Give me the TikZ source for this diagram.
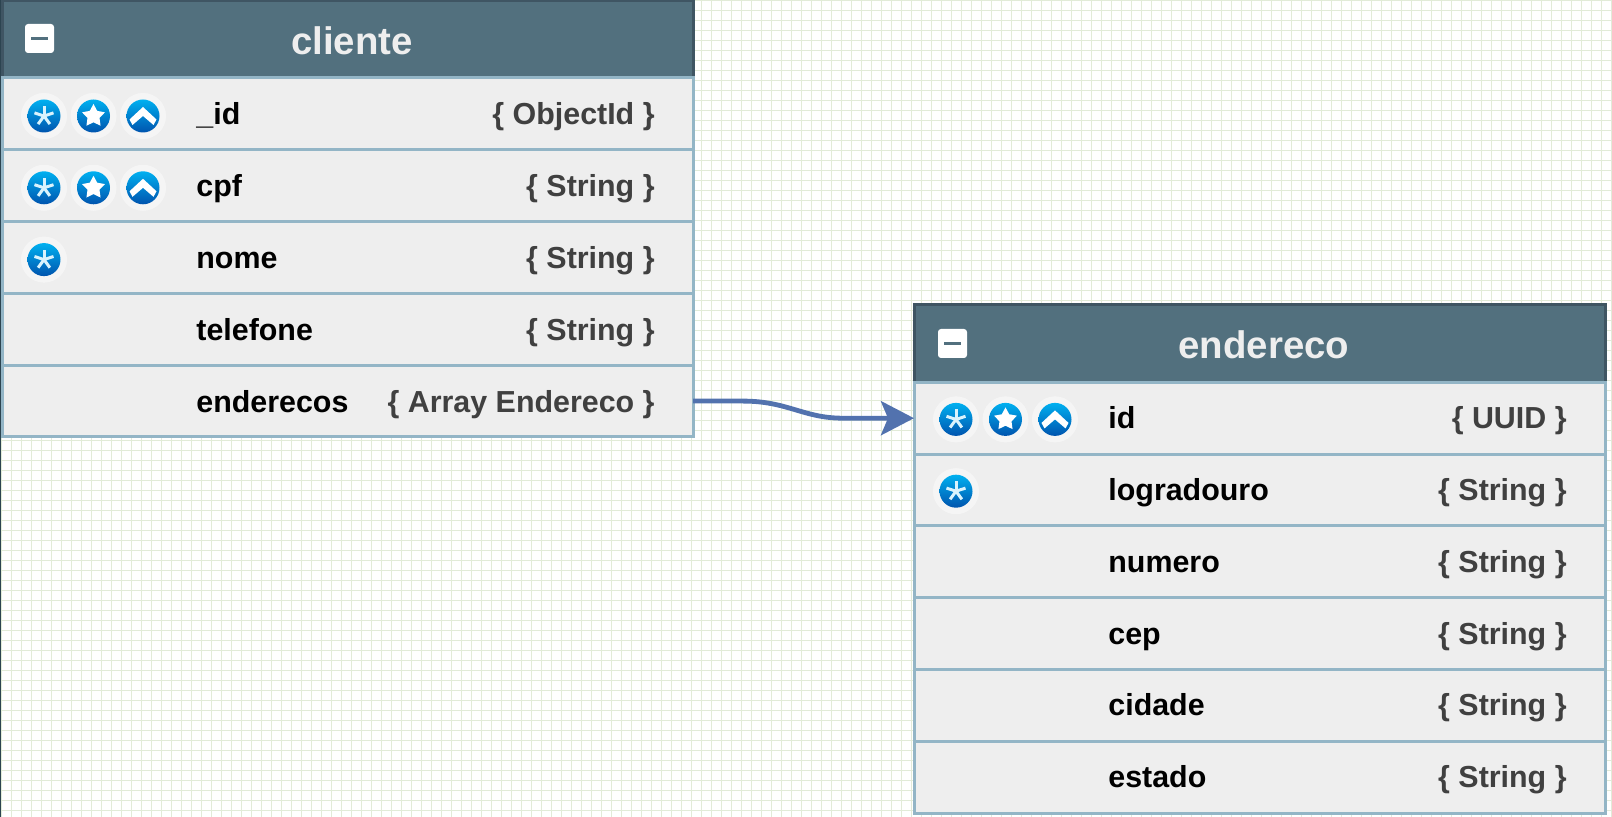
\documentclass[tikz,border=0pt]{standalone}
\usepackage{fontspec}
\setmainfont{Liberation Sans}
\usetikzlibrary{arrows.meta,shapes.geometric}
\definecolor{gridline}{HTML}{E2EBD8}
\definecolor{edgeline}{HTML}{2C4450}
\definecolor{headfill}{HTML}{52707E}
\definecolor{headline}{HTML}{3F5563}
\definecolor{rowfill}{HTML}{EEEEEE}
\definecolor{rowline}{HTML}{93B5C6}
\definecolor{typetext}{HTML}{404040}
\definecolor{linkline}{HTML}{5272AE}
\definecolor{icontop}{HTML}{00B0F0}
\definecolor{iconbottom}{HTML}{0054AE}
\tikzset{
  headbox/.style={draw=headline, fill=headfill, line width=1.5pt, minimum width=345.5pt, minimum height=39pt, inner sep=0pt, outer sep=0pt},
  rowbox/.style={draw=rowline, fill=rowfill, line width=1.5pt, minimum width=345.5pt, minimum height=35.9pt, inner sep=0pt, outer sep=0pt},
  titletext/.style={text=rowfill, font=\bfseries\fontsize{19.2}{22}\selectfont, anchor=base},
  fieldname/.style={text=black, font=\bfseries\fontsize{15.2}{18}\selectfont, anchor=base west, inner sep=0pt},
  fieldtype/.style={text=typetext, font=\bfseries\fontsize{15.2}{18}\selectfont, anchor=base east, inner sep=0pt},
  minusbtn/.style={fill=white, rounded corners=1.5pt, minimum size=14.5pt, inner sep=0pt,
    path picture={\draw[headfill, line width=1.5pt] (-8.5,0) -- (8.5,0);}},
  iconbase/.pic={
    \fill[white, opacity=.45] (0,0) circle (23);
    \shade[top color=icontop, bottom color=iconbottom] (0,0) circle (16.5);
  },
  asteriskicon/.pic={
    \pic {iconbase};
    \foreach \a in {90,162,234,306,18} {
      \draw[white!85!icontop, line width=1.5pt] (0,0) -- (\a:10);
    }
  },
  staricon/.pic={
    \pic {iconbase};
    \node[star, star points=5, star point ratio=1.9, fill=white, minimum size=12pt, inner sep=0pt] (-glyph) at (0,0) {};
  },
  chevronicon/.pic={
    \pic {iconbase};
    \fill[white] (0,9) -- (13.5,-3.5) -- (10.5,-9) -- (0,0) -- (-10.5,-9) -- (-13.5,-3.5) -- cycle;
  },
}
\begin{document}
\begin{tikzpicture}[x=0.5pt, y=0.5pt]
  \useasboundingbox (0,0) rectangle (1612,-817);

  % background grid
  \foreach \x in {1.5,11.5,...,1611.5} {
    \draw[gridline, line width=.85pt] (\x,0) -- (\x,-817);
  }
  \foreach \y in {0.5,10.5,...,810.5} {
    \draw[gridline, line width=.85pt] (0,-\y) -- (1612,-\y);
  }
  \fill[edgeline] (0,0) rectangle (1,-817);

  % table cliente
  \node[headbox] (clihead) at (347.5,-39.3) {};
  \node[titletext] (clititle) at (352,-54.5) {cliente};
  \node[minusbtn] (climinus) at (39.5,-38.5) {};
  \foreach \nm/\tp [count=\n] in {
      \_id/\{ ObjectId \},
      cpf/\{ String \},
      nome/\{ String \},
      telefone/\{ String \},
      enderecos/\{ Array Endereco \}} {
    \node[rowbox] (cli\n) at (347.5,-42.1-71.8*\n) {};
    \node[fieldname] (cliname\n) at (196,-53.1-71.8*\n) {\nm};
    \node[fieldtype] (clitype\n) at (655,-53.1-71.8*\n) {\tp};
  }

  % table endereco
  \node[headbox] (endhead) at (1259.5,-343.3) {};
  \node[titletext] (endtitle) at (1264,-359) {endereco};
  \node[minusbtn] (endminus) at (952.5,-343.5) {};
  \foreach \nm/\tp [count=\n] in {
      id/\{ UUID \},
      logradouro/\{ String \},
      numero/\{ String \},
      cep/\{ String \},
      cidade/\{ String \},
      estado/\{ String \}} {
    \node[rowbox] (end\n) at (1259.5,-346.4-71.8*\n) {};
    \node[fieldname] (endname\n) at (1108,-357-71.8*\n) {\nm};
    \node[fieldtype] (endtype\n) at (1567,-357-71.8*\n) {\tp};
  }

  % key icons
  \foreach \n in {1,2,3} {
    \pic (cliast\n) at (44,-44.2-71.8*\n) {asteriskicon};
  }
  \foreach \n in {1,2} {
    \pic (clistar\n) at (93.5,-44.2-71.8*\n) {staricon};
    \pic (clichev\n) at (143,-44.2-71.8*\n) {chevronicon};
    \pic (endast\n) at (956,-347.6-71.8*\n) {asteriskicon};
  }
  \pic (endstar1) at (1005.5,-419.4) {staricon};
  \pic (endchev1) at (1055,-419.4) {chevronicon};

  % link
  \draw[linkline, line width=2.4pt, -{Stealth[length=16.5pt, width=17pt, inset=3.5pt]}]
    (cli5.east) -- ++(50,0) .. controls +(45,0) and +(-40,0) .. ++(100,-17.1) -- (end1.west);
\end{tikzpicture}
\end{document}
